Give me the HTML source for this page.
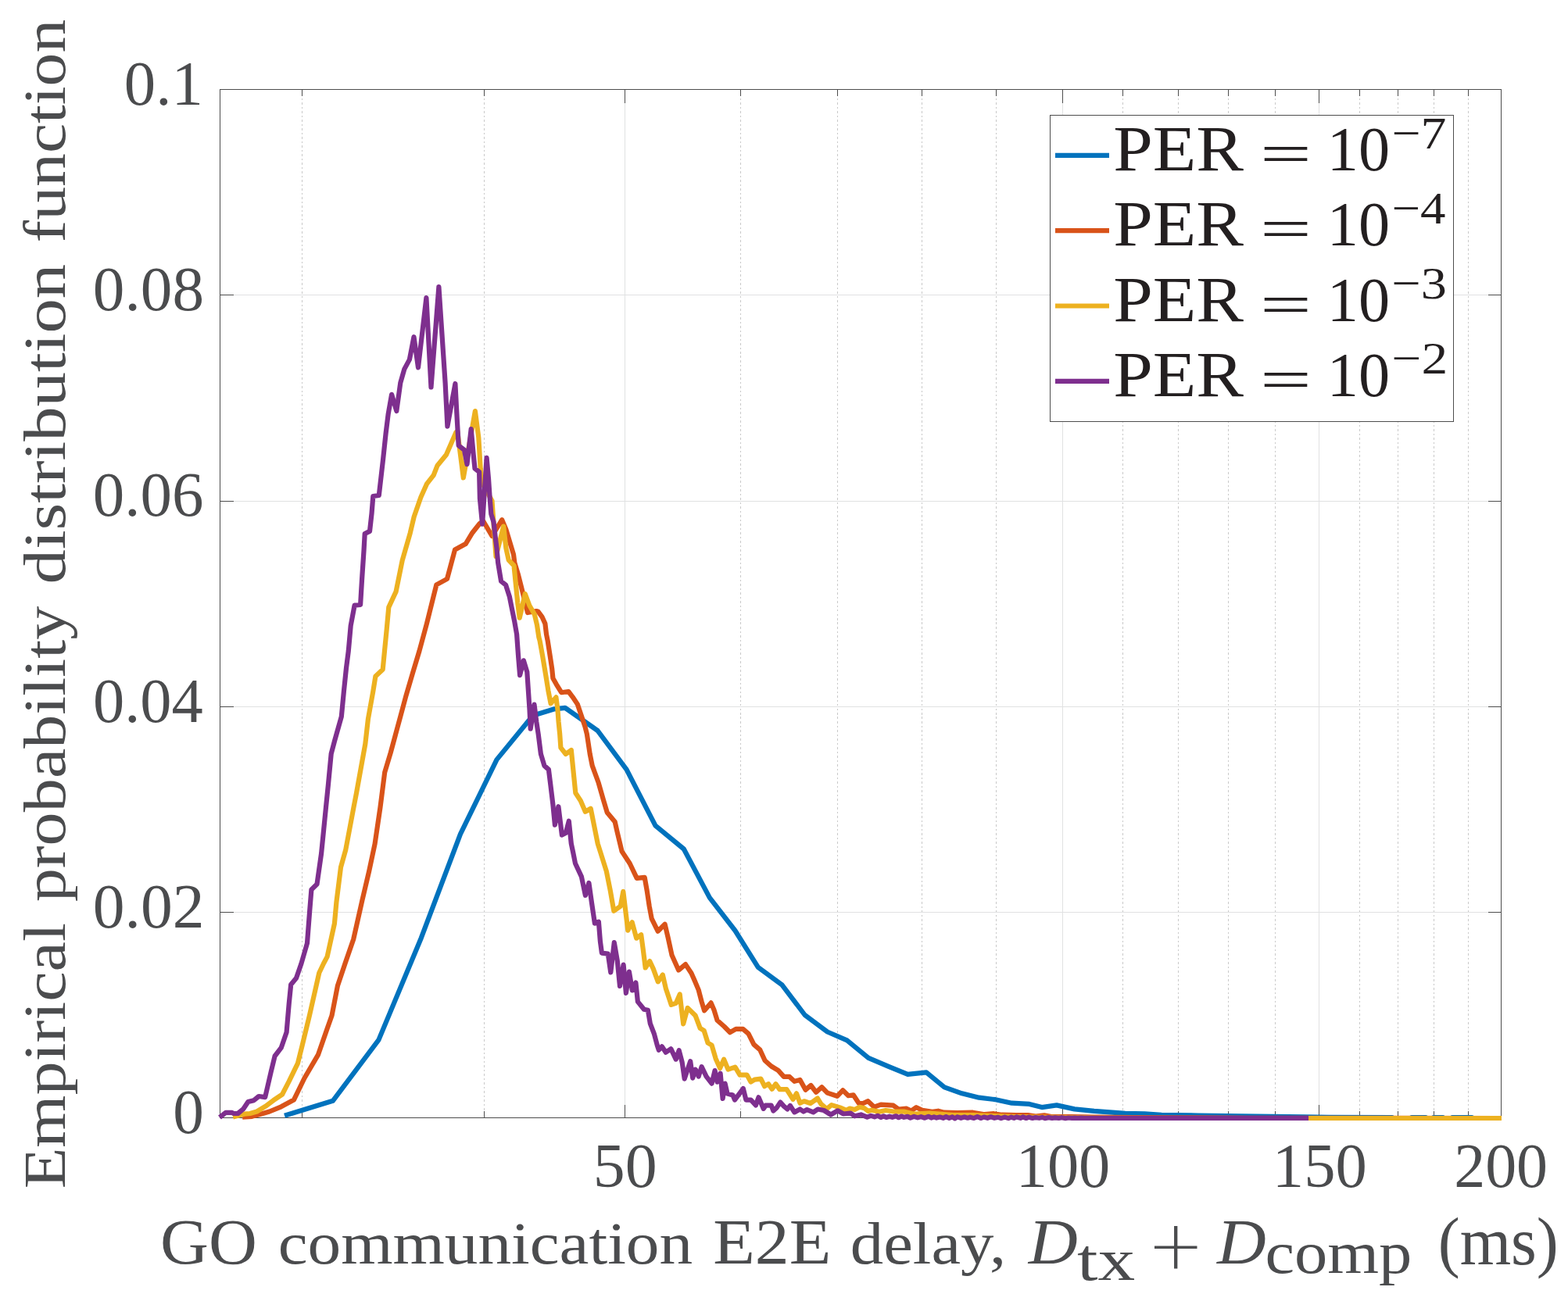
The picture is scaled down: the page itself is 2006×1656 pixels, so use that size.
<!DOCTYPE html>
<html lang="en"><head><meta charset="utf-8"><title>Empirical probability distribution function</title>
<style>html,body{margin:0;padding:0;background:#fff}body{width:2006px;height:1656px;overflow:hidden}svg{display:block}text{font-family:'Liberation Serif', serif}</style>
</head><body>
<svg width="2006" height="1656" viewBox="0 0 2006 1656">
<rect x="0" y="0" width="2006" height="1656" fill="#fff"/>
<g fill="none" stroke-width="1" shape-rendering="crispEdges">
<path d="M386.5 114.5V1430.5M619.5 114.5V1430.5M947.5 114.5V1430.5M1071.5 114.5V1430.5M1179.5 114.5V1430.5M1274.5 114.5V1430.5M1436.5 114.5V1430.5M1507.5 114.5V1430.5M1571.5 114.5V1430.5M1631.5 114.5V1430.5M1739.5 114.5V1430.5M1788.5 114.5V1430.5M1834.5 114.5V1430.5M1878.5 114.5V1430.5" stroke="#c9c9c9" stroke-dasharray="2.5 3" stroke-dashoffset="0"/>
<path d="M799.5 114.5V1430.5M1359.5 114.5V1430.5M1687.5 114.5V1430.5M281.5 1167.5H1920.5M281.5 904.5H1920.5M281.5 641.5H1920.5M281.5 377.5H1920.5" stroke="#e0e1e2"/>
</g>
<g fill="none" stroke="#4d4d4d" stroke-width="1" shape-rendering="crispEdges">
<path d="M799.5 1430.5v-17M799.5 114.5v17M1359.5 1430.5v-17M1359.5 114.5v17M1687.5 1430.5v-17M1687.5 114.5v17M386.5 1430.5v-8.5M386.5 114.5v8.5M619.5 1430.5v-8.5M619.5 114.5v8.5M947.5 1430.5v-8.5M947.5 114.5v8.5M1071.5 1430.5v-8.5M1071.5 114.5v8.5M1179.5 1430.5v-8.5M1179.5 114.5v8.5M1274.5 1430.5v-8.5M1274.5 114.5v8.5M1436.5 1430.5v-8.5M1436.5 114.5v8.5M1507.5 1430.5v-8.5M1507.5 114.5v8.5M1571.5 1430.5v-8.5M1571.5 114.5v8.5M1631.5 1430.5v-8.5M1631.5 114.5v8.5M1739.5 1430.5v-8.5M1739.5 114.5v8.5M1788.5 1430.5v-8.5M1788.5 114.5v8.5M1834.5 1430.5v-8.5M1834.5 114.5v8.5M1878.5 1430.5v-8.5M1878.5 114.5v8.5M281.5 1167.5h17M1920.5 1167.5h-17M281.5 904.5h17M1920.5 904.5h-17M281.5 641.5h17M1920.5 641.5h-17M281.5 377.5h17M1920.5 377.5h-17"/>
<rect x="281.5" y="114.5" width="1639.0" height="1316.0"/>
</g>
<g fill="none" stroke-width="6.2" stroke-linejoin="round" stroke-linecap="butt">
<path d="M364.0 1427.7L425.8 1408.8L484.4 1330.9L538.9 1200.2L589.0 1067.4L635.5 972.1L681.7 915.8L709.4 907.3L723.0 905.9L764.4 934.9L801.6 984.9L838.5 1056.7L874.8 1086.5L907.9 1148.9L940.5 1191.0L969.7 1237.7L1000.6 1260.6L1029.7 1299.0L1058.5 1320.5L1083.6 1331.3L1111.0 1353.9L1136.8 1364.9L1161.3 1374.8L1185.1 1372.3L1208.2 1391.3L1230.6 1399.3L1252.5 1404.7L1273.7 1407.2L1294.4 1411.7L1316.9 1412.9L1332.9 1417.1L1351.8 1414.4L1374.7 1419.4L1399.7 1421.9L1419.6 1423.4L1439.6 1424.9L1464.5 1425.4L1486.0 1426.8L1533.0 1427.5L1587.0 1428.3L1668.0 1429.3L1700.0 1429.9L1781.0 1430.0L1782.0 1431.0L1805.0 1431.0L1806.0 1430.0L1824.0 1430.0L1825.0 1431.0L1833.0 1431.0L1834.0 1430.0L1846.0 1430.0L1847.0 1431.0L1857.0 1431.0L1858.0 1430.0L1883.0 1430.0L1884.0 1431.0L1921.0 1431.0" stroke="#0072bd"/>
<path d="M310.1 1429.6L322.3 1428.8L333.6 1425.7L344.8 1422.5L359.7 1416.3L375.9 1407.6L389.6 1379.5L407.1 1349.6L418.3 1317.2L424.5 1299.8L432.0 1261.2L441.5 1233.0L452.2 1202.0L463.4 1152.1L472.2 1114.7L479.6 1079.9L486.5 1033.0L492.2 988.3L499.7 963.4L512.2 917.2L519.6 889.8L528.4 859.9L536.5 833.0L545.9 798.2L558.3 748.4L572.0 740.9L582.0 703.5L595.7 696.1L604.4 681.7L613.9 669.8L618.3 667.0L629.5 686.0L642.2 665.2L647.4 677.7L652.2 693.7L657.0 709.6L658.3 719.9L663.1 735.9L667.1 751.8L675.0 784.0L686.2 782.0L688.6 782.8L693.4 789.3L697.4 798.1L699.0 811.7L700.6 819.6L703.8 839.9L706.2 855.9L707.4 867.9L711.8 875.8L718.2 886.2L727.3 885.0L732.5 891.8L738.9 901.4L743.7 915.7L748.5 930.1L750.9 939.6L754.7 964.9L757.7 979.9L765.7 1001.8L771.7 1022.8L776.7 1039.7L786.7 1051.7L789.6 1064.6L795.6 1089.6L805.7 1105.0L814.7 1123.9L824.7 1122.9L827.7 1139.9L830.7 1159.8L833.7 1175.7L841.6 1191.7L850.6 1182.7L854.6 1199.7L859.6 1222.6L868.1 1241.5L877.0 1234.1L884.5 1245.5L888.7 1255.0L893.7 1266.9L897.6 1281.9L901.1 1293.3L909.6 1283.4L913.6 1292.8L917.6 1305.8L926.6 1313.8L934.0 1321.2L941.5 1316.8L950.5 1316.8L957.5 1322.8L964.4 1336.7L972.4 1343.7L978.6 1357.3L986.7 1364.5L995.6 1369.9L1002.8 1377.9L1010.0 1377.9L1016.3 1383.8L1023.5 1382.0L1030.6 1394.7L1037.4 1389.0L1044.1 1397.8L1051.3 1391.3L1058.5 1398.6L1071.0 1402.8L1078.2 1395.3L1085.4 1402.2L1091.7 1401.3L1098.8 1412.0L1104.2 1412.0L1110.5 1409.2L1118.4 1416.7L1126.9 1413.7L1142.9 1414.7L1149.9 1419.7L1159.8 1418.7L1165.8 1421.5L1172.3 1417.2L1179.8 1420.7L1192.7 1422.7L1200.2 1421.7L1207.7 1423.7L1224.6 1424.2L1244.6 1423.7L1259.5 1426.2L1271.5 1425.2L1281.5 1426.7L1300.0 1427.2L1315.0 1427.0L1325.0 1428.5L1336.0 1427.3L1345.0 1429.0L1370.0 1429.0L1400.0 1429.5L1450.0 1430.0L1500.0 1430.3L1600.0 1430.8L1921.0 1431.0" stroke="#d95319"/>
<path d="M298.0 1429.5L312.4 1425.7L319.9 1425.0L328.6 1422.5L339.8 1415.7L349.8 1408.2L361.0 1400.7L369.7 1383.9L380.9 1360.9L386.5 1338.4L395.9 1299.8L402.1 1272.4L408.3 1245.0L414.0 1233.0L418.6 1224.4L427.9 1182.0L430.4 1154.6L436.0 1109.8L442.3 1087.3L452.5 1033.0L456.1 1014.4L467.3 952.1L471.0 919.7L477.3 884.8L480.4 865.5L489.7 856.8L492.0 833.0L494.8 804.5L497.3 777.1L506.6 757.1L514.7 717.2L524.7 682.3L529.7 661.2L538.4 636.2L545.9 619.4L554.7 608.2L559.6 595.7L570.9 582.0L583.3 553.4L585.2 551.8L592.8 611.5L607.9 526.1L612.3 559.8L614.7 599.6L616.3 617.0L629.5 641.0L631.5 669.8L634.5 712.0L644.2 673.6L647.4 701.7L650.7 716.7L657.5 723.9L659.9 747.9L662.3 771.8L664.7 790.7L671.8 760.0L677.4 775.0L683.8 786.1L687.0 799.7L689.4 815.7L690.6 820.0L694.2 839.9L698.2 863.9L701.4 883.8L704.6 900.3L711.4 892.4L713.4 907.7L714.6 923.7L716.2 939.6L717.4 956.9L723.8 965.0L730.8 959.9L733.8 989.9L736.3 1014.8L742.8 1024.7L748.8 1038.7L755.7 1034.7L759.7 1054.7L764.7 1079.6L775.8 1114.9L780.8 1139.9L785.3 1165.8L793.8 1159.8L797.3 1140.9L800.8 1169.8L803.3 1190.7L808.7 1180.2L814.2 1200.7L820.2 1196.2L822.7 1214.6L825.7 1238.5L831.2 1230.1L835.7 1239.6L841.8 1256.4L847.8 1247.5L851.8 1264.9L858.8 1285.9L864.7 1283.9L869.7 1272.4L871.7 1289.9L874.2 1310.3L879.7 1289.9L889.7 1299.8L895.7 1315.8L900.6 1318.8L905.6 1334.7L910.6 1337.7L915.6 1354.7L921.1 1367.1L926.1 1355.7L931.5 1368.6L940.5 1365.6L946.5 1375.6L955.5 1375.6L960.5 1384.6L965.4 1381.6L973.4 1380.6L978.1 1390.2L983.1 1387.2L987.6 1393.8L992.5 1387.2L997.4 1394.1L1006.4 1394.1L1014.5 1406.8L1019.0 1399.3L1023.5 1411.7L1028.8 1409.3L1036.9 1412.0L1045.9 1405.6L1050.4 1412.9L1057.6 1419.2L1063.8 1414.1L1074.6 1417.4L1082.7 1420.8L1087.2 1418.6L1093.4 1420.1L1099.7 1416.8L1106.0 1418.3L1110.5 1421.9L1115.0 1420.7L1124.9 1422.7L1133.0 1421.0L1144.9 1422.7L1157.3 1422.7L1169.8 1425.7L1189.7 1424.7L1219.6 1427.2L1244.6 1427.2L1300.0 1429.0L1400.0 1430.5L1500.0 1431.0L1921.0 1431.0" stroke="#edb120"/>
<path d="M281.0 1430.0L288.7 1423.8L296.8 1423.8L298.7 1425.0L304.3 1425.0L311.1 1419.4L317.4 1410.1L324.8 1408.2L331.1 1403.0L339.2 1404.1L346.6 1372.1L351.6 1351.5L359.7 1340.9L366.6 1321.0L369.7 1284.8L372.2 1259.9L379.0 1251.8L385.5 1233.0L393.0 1207.0L396.1 1167.1L398.4 1138.4L405.5 1131.6L411.1 1092.3L414.2 1061.2L417.0 1033.0L419.9 1004.5L423.7 964.6L428.0 948.4L436.8 917.2L439.9 884.8L443.0 854.9L445.8 833.0L448.7 800.7L453.6 774.6L461.1 773.9L463.0 742.2L465.5 704.8L466.7 683.0L473.0 679.9L475.5 657.4L477.3 635.0L484.8 634.0L489.9 589.5L493.6 554.6L496.7 529.7L501.1 504.8L507.3 526.0L512.3 489.8L517.3 472.4L523.9 460.1L529.5 431.2L535.0 470.4L545.4 381.0L551.5 495.5L561.4 367.0L569.6 489.8L572.4 545.6L582.4 491.0L584.8 537.4L586.7 570.1L593.9 575.7L597.5 594.2L602.7 549.2L605.9 583.7L607.5 599.6L613.1 604.0L613.9 637.9L617.1 670.7L622.6 585.9L625.1 613.9L626.7 637.9L628.3 657.8L631.5 668.2L633.5 685.7L635.5 701.7L637.1 719.9L641.1 743.9L647.1 748.7L651.9 763.8L655.1 779.8L658.3 795.7L661.1 811.7L663.1 839.9L665.1 864.1L669.9 845.3L674.3 859.9L675.9 883.8L677.5 907.7L678.7 932.7L683.5 901.6L686.3 923.7L688.7 939.6L691.9 964.9L696.4 979.9L701.9 984.9L704.4 1004.8L707.4 1029.7L709.9 1055.6L714.4 1032.2L718.9 1068.6L723.8 1066.0L727.8 1050.7L730.8 1079.6L733.0 1090.0L736.0 1105.0L743.9 1121.9L748.9 1145.8L753.4 1129.9L756.9 1154.8L760.9 1181.7L765.9 1179.7L767.9 1204.7L769.9 1219.6L777.8 1220.6L781.3 1244.5L785.8 1206.2L789.8 1229.6L793.0 1262.0L797.6 1234.6L800.9 1270.9L804.9 1243.5L808.9 1267.4L813.4 1257.5L815.9 1281.9L823.9 1291.8L828.9 1292.8L831.8 1309.8L836.8 1322.8L840.8 1337.7L842.8 1343.7L846.8 1339.2L851.8 1346.7L858.3 1342.2L864.7 1355.6L868.7 1344.2L872.7 1359.6L875.7 1380.6L883.2 1358.2L886.2 1379.6L889.7 1368.6L893.7 1377.6L897.6 1365.1L903.6 1377.6L910.6 1386.6L914.6 1370.1L917.6 1384.6L921.6 1373.6L924.6 1406.0L927.6 1386.6L930.5 1399.5L937.5 1401.5L940.0 1407.6L950.8 1393.1L954.4 1407.6L960.6 1407.6L966.9 1414.4L970.5 1404.3L976.8 1418.9L979.5 1414.7L986.7 1414.7L989.4 1421.6L993.8 1417.4L998.3 1410.6L1002.8 1415.6L1007.3 1419.4L1010.9 1415.0L1016.3 1423.4L1023.5 1419.5L1027.9 1422.5L1032.4 1420.1L1040.5 1423.4L1046.3 1419.5L1054.0 1421.0L1062.9 1426.5L1071.5 1421.3L1079.1 1425.5L1088.1 1424.6L1093.4 1428.3L1101.5 1426.4L1105.0 1427.8L1109.4 1429.7L1114.1 1427.9L1118.8 1429.3L1122.7 1427.8L1127.0 1430.0L1130.3 1428.3L1133.9 1429.9L1138.0 1428.7L1141.6 1429.8L1146.3 1428.3L1149.7 1430.2L1153.1 1428.5L1156.5 1429.8L1161.1 1428.9L1164.7 1430.6L1169.3 1428.9L1174.0 1430.4L1178.3 1429.1L1183.0 1430.7L1187.8 1428.8L1191.4 1430.6L1194.9 1429.4L1198.2 1430.6L1202.4 1429.6L1206.6 1430.8L1210.3 1429.2L1214.3 1430.8L1218.3 1429.3L1221.6 1431.4L1224.8 1429.4L1229.4 1430.8L1233.8 1429.6L1237.9 1430.7L1241.2 1429.7L1246.0 1430.9L1250.4 1429.2L1255.1 1431.0L1258.8 1429.5L1263.3 1430.8L1267.7 1429.3L1272.2 1430.8L1277.0 1429.8L1280.7 1431.1L1285.4 1429.6L1290.1 1431.1L1293.8 1429.7L1297.2 1430.8L1300.7 1429.4L1305.5 1430.8L1308.8 1429.4L1312.8 1431.0L1316.4 1429.7L1320.9 1431.0L1324.8 1430.1L1329.4 1430.8L1333.4 1429.9L1336.8 1431.1L1341.6 1430.1L1346.0 1430.9L1349.9 1430.4L1354.5 1430.9L1358.4 1430.2L1363.0 1431.1L1366.9 1430.5L1371.3 1430.9L1374.9 1430.6L1378.4 1430.9L1383.1 1430.7L1387.3 1430.9L1391.1 1430.9L1394.7 1430.9L1397.0 1430.9L1674.0 1430.9" stroke="#7e2f8e"/>
</g>
<g fill="#4b4c4e">
<text transform="translate(158.77 134.00) scale(1.0103 1.0000)" font-size="80">0.1</text>
<text transform="translate(118.85 397.20) scale(1.0157 1.0000)" font-size="80">0.08</text>
<text transform="translate(118.86 660.40) scale(1.0119 1.0000)" font-size="80">0.06</text>
<text transform="translate(118.88 923.60) scale(1.0063 1.0000)" font-size="80">0.04</text>
<text transform="translate(118.84 1186.80) scale(1.0196 1.0000)" font-size="80">0.02</text>
<text transform="translate(221.33 1450.00) scale(0.9912 1.0000)" font-size="80">0</text>
<text transform="translate(758.73 1519.00) scale(1.0242 1.0000)" font-size="80">50</text>
<text transform="translate(1299.66 1519.00) scale(1.0055 1.0000)" font-size="80">100</text>
<text transform="translate(1627.84 1519.00) scale(1.0082 1.0000)" font-size="80">150</text>
<text transform="translate(1860.20 1519.00) scale(0.9991 1.0000)" font-size="80">200</text>
</g>
<g fill="#4b4c4e">
<text transform="translate(205.09 1617.30) scale(1.0327 1.0000)" font-size="83">GO</text>
<text transform="translate(355.66 1617.30) scale(1.1148 1.0000)" font-size="76.5">communication</text>
<text transform="translate(912.26 1617.30) scale(1.0569 1.0000)" font-size="83">E2E</text>
<text transform="translate(1087.75 1617.30) scale(1.1089 1.0000)" font-size="76.5">delay,</text>
<text transform="translate(1315.75 1617.30) scale(1.0510 1.0000)" font-size="83" font-style="italic">D</text>
<text transform="translate(1378.06 1638.20) scale(1.2468 1.0000)" font-size="76.5">tx</text>
<text transform="translate(1467.75 1624.40) scale(1.0880 1.0905)" font-size="80" style="font-family:'DejaVu Sans Light','DejaVu Sans',sans-serif">+</text>
<text transform="translate(1557.05 1617.30) scale(1.0460 1.0000)" font-size="83" font-style="italic">D</text>
<text transform="translate(1618.59 1628.70) scale(1.1049 1.0000)" font-size="76.5">comp</text>
<text transform="translate(1839.63 1617.60) scale(1.0996 1.1321)" font-size="76.5">(ms)</text>
</g>
<g fill="#4b4c4e">
<text transform="translate(83.30 1521.34) rotate(-90) scale(1.1281 1)" font-size="76.5">Empirical</text>
<text transform="translate(83.30 1154.31) rotate(-90) scale(1.1285 1)" font-size="76.5">probability</text>
<text transform="translate(83.30 747.50) rotate(-90) scale(1.1619 1)" font-size="76.5">distribution</text>
<text transform="translate(83.30 310.42) rotate(-90) scale(1.1209 1)" font-size="76.5">function</text>
</g>
<rect x="1343.5" y="147.5" width="516.0" height="392.0" fill="#fff" stroke="#4d4d4d" stroke-width="1" shape-rendering="crispEdges"/>
<g fill="none" stroke-width="6.2">
<path d="M1350 198.9H1419" stroke="#0072bd"/>
<path d="M1350 295.2H1419" stroke="#d95319"/>
<path d="M1350 391.5H1419" stroke="#edb120"/>
<path d="M1350 487.8H1419" stroke="#7e2f8e"/>
</g>
<g fill="#231f20">
<text transform="translate(1424.14 217.90) scale(1.1032 1.0000)" font-size="82.5">PER</text>
<text transform="translate(1608.53 226.09) scale(1.0900 1.1238)" font-size="80" style="font-family:'DejaVu Sans Light','DejaVu Sans',sans-serif">=</text>
<text transform="translate(1697.87 217.90) scale(1.0043 1.0000)" font-size="80">10</text>
<text transform="translate(1780.40 189.50) scale(1.1333 1.0000)" font-size="58">−7</text>
<text transform="translate(1424.14 314.20) scale(1.1032 1.0000)" font-size="82.5">PER</text>
<text transform="translate(1608.53 322.39) scale(1.0900 1.1238)" font-size="80" style="font-family:'DejaVu Sans Light','DejaVu Sans',sans-serif">=</text>
<text transform="translate(1697.87 314.20) scale(1.0043 1.0000)" font-size="80">10</text>
<text transform="translate(1780.44 285.80) scale(1.1186 1.0000)" font-size="58">−4</text>
<text transform="translate(1424.14 410.50) scale(1.1032 1.0000)" font-size="82.5">PER</text>
<text transform="translate(1608.53 418.69) scale(1.0900 1.1238)" font-size="80" style="font-family:'DejaVu Sans Light','DejaVu Sans',sans-serif">=</text>
<text transform="translate(1697.87 410.50) scale(1.0043 1.0000)" font-size="80">10</text>
<text transform="translate(1780.37 382.10) scale(1.1434 1.0000)" font-size="58">−3</text>
<text transform="translate(1424.14 506.80) scale(1.1032 1.0000)" font-size="82.5">PER</text>
<text transform="translate(1608.53 514.99) scale(1.0900 1.1238)" font-size="80" style="font-family:'DejaVu Sans Light','DejaVu Sans',sans-serif">=</text>
<text transform="translate(1697.87 506.80) scale(1.0043 1.0000)" font-size="80">10</text>
<text transform="translate(1780.31 478.40) scale(1.1640 1.0000)" font-size="58">−2</text>
</g>
</svg>
</body></html>
